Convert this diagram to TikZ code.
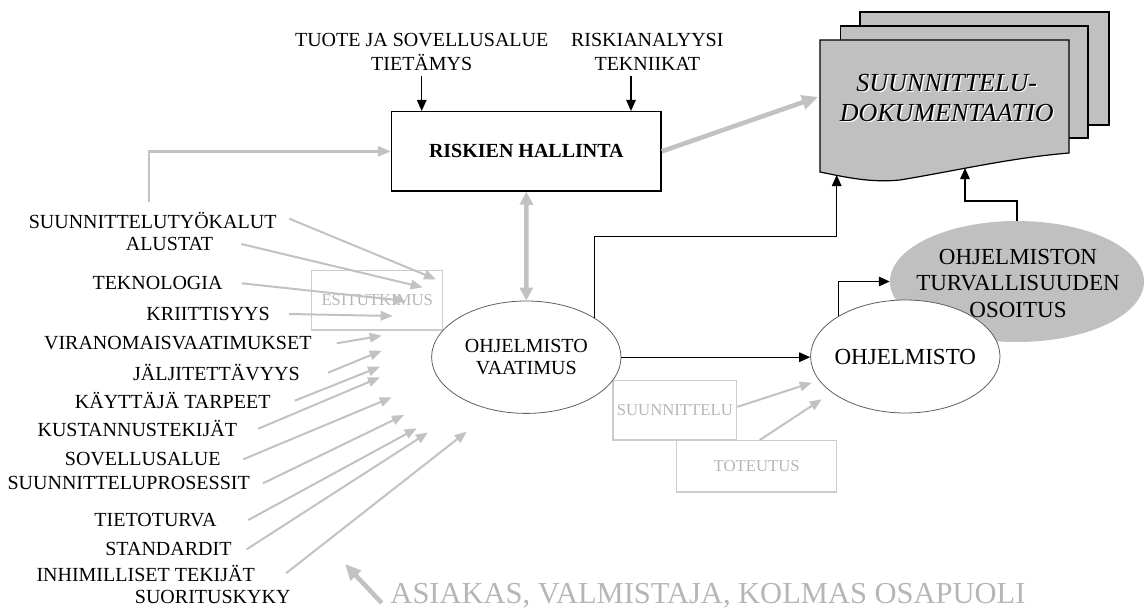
\documentclass[tikz,border=0pt]{standalone}
\usepackage{fontspec}
\setmainfont{Liberation Serif}
\usetikzlibrary{arrows.meta,shapes.geometric}

\definecolor{docgray}{RGB}{192,192,192}
\definecolor{linegray}{RGB}{194,194,194}
\definecolor{boxgray}{RGB}{204,204,204}
\definecolor{txtgray}{RGB}{182,182,182}
\definecolor{ringgray}{RGB}{95,95,95}

\newcommand\fsz[2]{\fontsize{#1}{#2}\selectfont}

\begin{document}
\begin{tikzpicture}[x=1pt,y=-1pt,
  every node/.style={inner sep=0pt, align=center},
  lbl/.style={anchor=east, font={\fsz{20}{24}}},
  feed/.style={draw=linegray, line width=2pt, -{Triangle[length=12pt,width=9.5pt]}},
  feedthick/.style={draw=linegray, line width=2.6pt, -{Triangle[length=13pt,width=10pt]}},
  bigarrow/.style={draw=linegray, line width=4.6pt, -{Triangle[length=16pt,width=14pt]}},
  twoway/.style={draw=linegray, line width=4.5pt, {Triangle[length=13pt,width=13pt]}-{Triangle[length=13pt,width=13pt]}},
  bk/.style={draw=black, line width=1.4pt, -{Triangle[length=11pt,width=9.5pt]}},
  graybox/.style={draw=boxgray, line width=1.3pt, text=txtgray, font={\fsz{16.7}{20}}},
  oval/.style={ellipse, draw=ringgray, line width=0.8pt, fill=white},
  docsheet/.style={fill=docgray, draw=black, line width=1.2pt}
]
\useasboundingbox (0,0) rectangle (1144,610);

% ---- document stack ----
\draw[docsheet] (860,12) rectangle (1109,125);
\draw[docsheet] (840.7,26) rectangle (1088,138);
\draw[docsheet] (820,40) -- (1069,40) -- (1069,153)
  .. controls (1010,158) and (960,170) .. (900,180)
  .. controls (870,183) and (845,177) .. (820,172) -- cycle;
\node[font={\itshape\fsz{26}{30}}, text=white] (docshade) at (948.1,99.4) {SUUNNITTELU-\\DOKUMENTAATIO};
\node[font={\itshape\fsz{26}{30}}] (doc) at (946.7,98) {SUUNNITTELU-\\DOKUMENTAATIO};
\coordinate (docIn) at (818,97);
\coordinate (docA) at (836.7,175);
\coordinate (docB) at (965,168);

% ---- risk management ----
\node[draw=black, line width=1.5pt, minimum width=269.3pt, minimum height=79.3pt,
      font={\bfseries\fsz{20}{24}}] (risk) at (526.35,151.35) {RISKIEN HALLINTA};
\node[font={\fsz{20}{24}}] (k1) at (421.7,52) {TUOTE JA SOVELLUSALUE\\TIETÄMYS};
\node[font={\fsz{20}{24}}] (k2) at (647.3,52) {RISKIANALYYSI\\TEKNIIKAT};
\draw[bk, shorten <=5pt] (k1.south) -- (k1.south |- risk.north);
\draw[bk, shorten <=5pt] ([xshift=-16.3pt]k2.south) -- ([xshift=-16.3pt]k2.south |- risk.north);
\draw[bigarrow] (risk.east) -- (docIn);

% ---- grey boxes ----
\node[graybox, minimum width=131pt, minimum height=59.3pt] (esi) at (377.2,300.4) {ESITUTKIMUS};
\node[graybox, minimum width=123.7pt, minimum height=59.3pt] (suun) at (674.85,410.35) {SUUNNITTELU};
\node[graybox, minimum width=160pt, minimum height=51.3pt] (tot) at (756.7,466.35) {TOTEUTUS};

% ---- ellipses ----
\node[ellipse, fill=docgray, minimum width=254pt, minimum height=121pt] (saf) at (1017,281.5) {};
\node[oval, minimum width=189.4pt, minimum height=113pt,
      label={[font={\fsz{23}{26}}]center:OHJELMISTO}] (sw) at (905.3,356.5) {};
\node[font={\fsz{23}{26.7}}] (saftext) at (1018,283.3) {OHJELMISTON\\TURVALLISUUDEN\\OSOITUS};
\node[oval, minimum width=189.4pt, minimum height=112.4pt, font={\fsz{20}{22.6}}] (req) at (526.3,357.2) {OHJELMISTO\\VAATIMUS};

\draw[twoway] (risk.south) -- (req.north);
\draw[bk] (req.east) -- (req.east -| sw.west);
\coordinate (turnA) at (836.7,236.7);
\draw[bk] (req.30.6) |- (turnA) -- (docA);
\draw[bk] (sw.149.4) |- (saf.west);
\coordinate (turnB) at (965,201);
\draw[bk] (saf.north) |- (turnB) -- (docB);

\coordinate (f1) at (811.7,382.7);
\coordinate (f2) at (821.7,399.3);
\draw[feed] ([yshift=3.5pt]suun.east) -- (f1);
\draw[feed] ([xshift=3pt]tot.north) -- (f2);

% ---- influencing factors ----
\node[lbl] (t1) at (276.7,220.7) {SUUNNITTELUTYÖKALUT};
\node[lbl] (t2) at (213.3,244) {ALUSTAT};
\node[lbl] (t3) at (222.7,283.3) {TEKNOLOGIA};
\node[lbl] (t4) at (270,314) {KRIITTISYYS};
\node[lbl] (t5) at (311.7,343.3) {VIRANOMAISVAATIMUKSET};
\node[lbl] (t6) at (300,372.7) {JÄLJITETTÄVYYS};
\node[lbl] (t7) at (270.7,400.7) {KÄYTTÄJÄ TARPEET};
\node[lbl] (t8) at (237.3,428.7) {KUSTANNUSTEKIJÄT};
\node[lbl] (t9) at (220.7,459.3) {SOVELLUSALUE};
\node[lbl] (t10) at (250,483.3) {SUUNNITTELUPROSESSIT};
\node[lbl] (t11) at (216.7,520) {TIETOTURVA};
\node[lbl] (t12) at (231.7,549.3) {STANDARDIT};
\node[lbl] (t13) at (255,573.3) {INHIMILLISET TEKIJÄT};
\node[lbl] (t14) at (290.7,597.3) {SUORITUSKYKY};

\coordinate (e1) at (436,279.3);
\coordinate (e2) at (422.7,287.3);
\coordinate (e3) at (406,301);
\coordinate (e4) at (392.7,316);
\coordinate (e5) at (381.7,335.7);
\coordinate (e6) at (381.7,350.7);
\coordinate (e7) at (380,366.7);
\coordinate (e8) at (380,377.3);
\coordinate (e9) at (391.7,397.3);
\coordinate (e10) at (404,415);
\coordinate (e11) at (416.7,428.3);
\coordinate (e12) at (428,432.5);
\coordinate (e13) at (466.7,431.7);

\draw[feed] ([xshift=12.6pt,yshift=2pt]t1.east) -- (e1);
\draw[feed] ([xshift=28pt]t2.east) -- (e2);
\draw[feed] ([xshift=19pt]t3.east) -- (e3);
\draw[feed] ([xshift=19pt]t4.east) -- (e4);
\draw[feed] ([xshift=25pt]t5.east) -- (e5);
\draw[feed] ([xshift=28pt]t6.east) -- (e6);
\draw[feed] ([xshift=24pt]t7.east) -- (e7);
\draw[feed] ([xshift=21pt]t8.east) -- (e8);
\draw[feed] ([xshift=22.6pt]t9.east) -- (e9);
\draw[feed] ([xshift=13pt]t10.east) -- (e10);
\draw[feed] ([xshift=31.6pt]t11.east) -- (e11);
\draw[feed] ([xshift=15pt]t12.east) -- (e12);
\draw[feed] ([xshift=31pt]t13.east) -- (e13);

\coordinate (upStart) at (149,202);
\draw[feedthick] (upStart) |- (risk.west);

% ---- stakeholders ----
\node[font={\fsz{30.5}{34}}, text=txtgray] (ask) at (708,596) {ASIAKAS, VALMISTAJA, KOLMAS OSAPUOLI};
\coordinate (askTip) at (345,564);
\draw[bigarrow] ([shift={(-8.5,7)}]ask.west) -- (askTip);
\end{tikzpicture}
\end{document}
